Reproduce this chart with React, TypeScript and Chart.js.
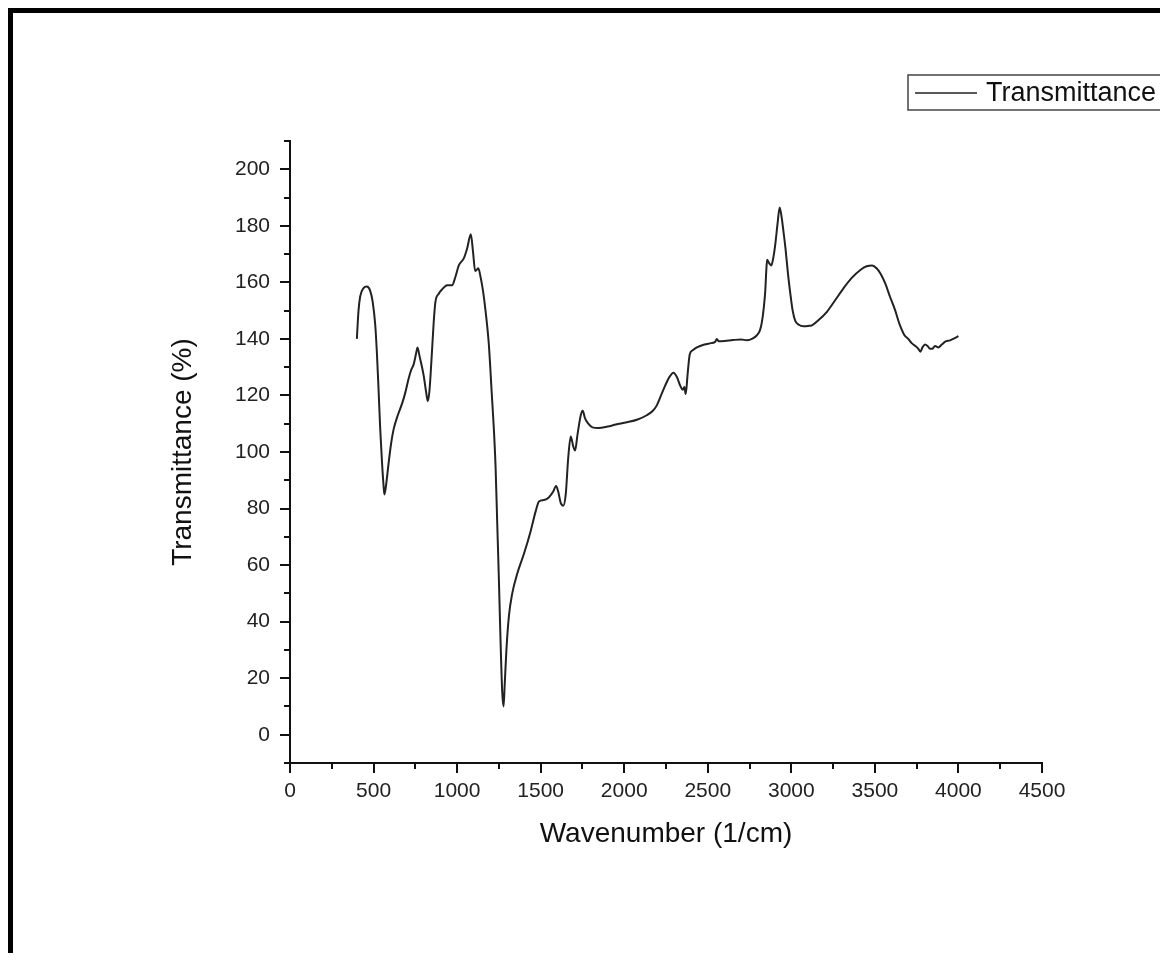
import { useEffect, useRef } from "react";
import { Chart, registerables } from "chart.js";

Chart.register(...registerables);

const seriesLabel = "Transmittance";
const xTitle = "Wavenumber (1/cm)";
const yTitle = "Transmittance (%)";

const wavenumbers = [
  400, 410, 420, 440, 460, 480, 495, 510, 520, 530, 540, 550, 560, 565, 572, 590, 605, 620, 645, 670,
  690, 710, 725, 740, 755, 763, 775, 800, 815, 825, 835, 848, 860, 870, 890, 910, 940, 970, 990, 1010,
  1040, 1060, 1082, 1095, 1108, 1118, 1127, 1140, 1155, 1170, 1190, 1207, 1220, 1230, 1240, 1250, 1260, 1270, 1278, 1285,
  1295, 1310, 1330, 1360, 1400, 1440, 1470, 1490, 1520, 1550, 1575, 1592, 1605, 1620, 1635, 1650, 1665, 1680, 1695, 1706,
  1720, 1740, 1752, 1765, 1785, 1810, 1846, 1900, 1950, 2016, 2080, 2135, 2170, 2195, 2220, 2245, 2270, 2295, 2315, 2335,
  2350, 2360, 2368, 2380, 2392, 2410, 2435, 2480, 2520, 2545, 2554, 2565, 2600, 2650, 2700, 2734, 2770, 2794, 2812, 2824,
  2835, 2844, 2850, 2855, 2865, 2880, 2893, 2905, 2918, 2930, 2942, 2955, 2965, 2980, 2993, 3008, 3023, 3045, 3073, 3100,
  3123, 3160, 3213, 3260, 3312, 3360, 3413, 3450, 3484, 3510, 3535, 3562, 3590, 3622, 3640, 3652, 3675, 3700, 3720, 3742,
  3760, 3772, 3785, 3800, 3815, 3830, 3843, 3860, 3880, 3900, 3921, 3950, 3975, 4000,
];

const transmittance = [
  140, 150, 155, 158, 158.5, 157, 153, 145, 135, 122, 108, 97, 88, 85, 87, 96, 103, 108, 113, 117,
  121, 126, 129, 131, 135, 137, 134, 127, 121, 118, 122, 134, 146, 153, 156, 157.5, 159, 159, 162, 166,
  168.5, 172, 177, 171, 164, 164.5, 165, 162, 157, 150, 138, 121, 108, 95, 75, 55, 33, 15, 10, 18,
  30, 42, 50, 57, 64, 72, 79, 82.5, 83, 84, 86, 88, 86, 82, 81, 85, 98, 105.5, 102, 100.5,
  106, 113, 114.6, 112, 110, 108.7, 108.5, 109, 109.7, 110.5, 111.5, 113, 114.5, 116.5, 120, 123.5, 126.5, 128, 126.5, 123.5,
  122, 123, 120.5, 128, 134.5, 136, 137, 138, 138.5, 139, 140, 139.2, 139.3, 139.6, 139.8, 139.5, 140.2, 141.3, 143, 146,
  151, 157, 164, 168, 167, 166, 169, 174, 181, 186.5, 183, 177, 172, 163, 156.5, 150, 146.5, 145, 144.5, 144.6,
  144.8, 146.5, 149.6, 153.5, 157.9, 161.5, 164.4, 165.7, 166, 165, 163, 159.6, 155, 150, 146.5, 144.5, 141.5, 140, 138.5, 137.5,
  136.5, 135.5, 137, 138, 137.5, 136.5, 136.5, 137.5, 137, 138, 139, 139.5, 140.2, 141,
];

const xTickValues = [0, 500, 1000, 1500, 2000, 2500, 3000, 3500, 4000, 4500];
const xMinorTickValues = [250, 750, 1250, 1750, 2250, 2750, 3250, 3750, 4250];
const yTickValues = [0, 20, 40, 60, 80, 100, 120, 140, 160, 180, 200];
const yMinorTickValues = [-10, 10, 30, 50, 70, 90, 110, 130, 150, 170, 190, 210];

const FONT = "'Liberation Sans', Arial, Helvetica, sans-serif";

const decorPlugin = {
  id: "decor",
  afterDraw(chart: any) {
    const { ctx, chartArea, scales } = chart;
    ctx.save();
    // minor ticks
    ctx.strokeStyle = "#111";
    ctx.lineWidth = 2;
    ctx.beginPath();
    for (const v of xMinorTickValues) {
      const px = Math.round(scales.x.getPixelForValue(v));
      ctx.moveTo(px, chartArea.bottom);
      ctx.lineTo(px, chartArea.bottom + 6);
    }
    for (const v of yMinorTickValues) {
      const py = Math.round(scales.y.getPixelForValue(v));
      ctx.moveTo(chartArea.left, py);
      ctx.lineTo(chartArea.left - 6, py);
    }
    ctx.stroke();

    // legend box
    const bx = 895, by = 62, bw = 258, bh = 35;
    ctx.strokeStyle = "#444";
    ctx.lineWidth = 1.5;
    ctx.strokeRect(bx, by, bw, bh);
    const ds = chart.data.datasets[0];
    ctx.strokeStyle = ds.borderColor;
    ctx.lineWidth = 1.5;
    ctx.beginPath();
    ctx.moveTo(bx + 7, by + 18);
    ctx.lineTo(bx + 69, by + 18);
    ctx.stroke();
    ctx.fillStyle = "#111";
    ctx.font = `27px ${FONT}`;
    ctx.textAlign = "left";
    ctx.textBaseline = "middle";
    ctx.fillText(ds.label, bx + 78, by + 19);
    ctx.restore();
  },
};

export default function App() {
  const ref = useRef<HTMLCanvasElement | null>(null);

  useEffect(() => {
    if (!ref.current) return;
    const points = wavenumbers.map((x, i) => ({ x, y: transmittance[i] }));
    const axisCommon = {
      grid: {
        display: true,
        drawOnChartArea: false,
        drawTicks: true,
        tickLength: 10,
        tickWidth: 2,
        tickColor: "#111",
        color: "#111",
        lineWidth: 2,
      },
      border: { display: true, color: "#111", width: 2 },
    };
    const chart = new Chart(ref.current, {
      type: "line",
      data: {
        datasets: [
          {
            label: seriesLabel,
            data: points,
            borderColor: "#222",
            borderWidth: 2,
            pointRadius: 0,
            fill: false,
            cubicInterpolationMode: "monotone",
          },
        ],
      },
      options: {
        animation: false,
        responsive: false,
        maintainAspectRatio: false,
        layout: { padding: { left: 153, right: 126, top: 128, bottom: 102 } },
        plugins: { legend: { display: false }, tooltip: { enabled: false } },
        scales: {
          x: {
            type: "linear",
            position: "bottom",
            min: 0,
            max: 4500,
            afterFit: (s: any) => {
              s.height = 88;
            },
            afterBuildTicks: (s: any) => {
              s.ticks = xTickValues.map((v) => ({ value: v }));
            },
            ticks: {
              autoSkip: false,
              maxRotation: 0,
              padding: 6,
              color: "#222",
              font: { family: FONT, size: 21 },
              callback: (v: any) => String(v),
            },
            title: {
              display: true,
              text: xTitle,
              color: "#111",
              font: { family: FONT, size: 28 },
              padding: 0,
            },
            ...axisCommon,
          },
          y: {
            type: "linear",
            position: "left",
            min: -10,
            max: 210,
            afterFit: (s: any) => {
              s.width = 124;
            },
            afterBuildTicks: (s: any) => {
              s.ticks = yTickValues.map((v) => ({ value: v }));
            },
            ticks: {
              autoSkip: false,
              padding: 10,
              color: "#222",
              font: { family: FONT, size: 21 },
              callback: (v: any) => String(v),
            },
            title: {
              display: true,
              text: yTitle,
              color: "#111",
              font: { family: FONT, size: 28 },
              padding: 0,
            },
            ...axisCommon,
          },
        },
      },
      plugins: [decorPlugin],
    } as any);
    return () => chart.destroy();
  }, []);

  return (
    <div
      style={{
        borderTop: "6px solid #000",
        borderLeft: "6px solid #000",
        margin: "-1px -8px 0 -1px",
        background: "#fff",
      }}
    >
      <canvas ref={ref} width={1155} height={940} style={{ display: "block" }} />
    </div>
  );
}
